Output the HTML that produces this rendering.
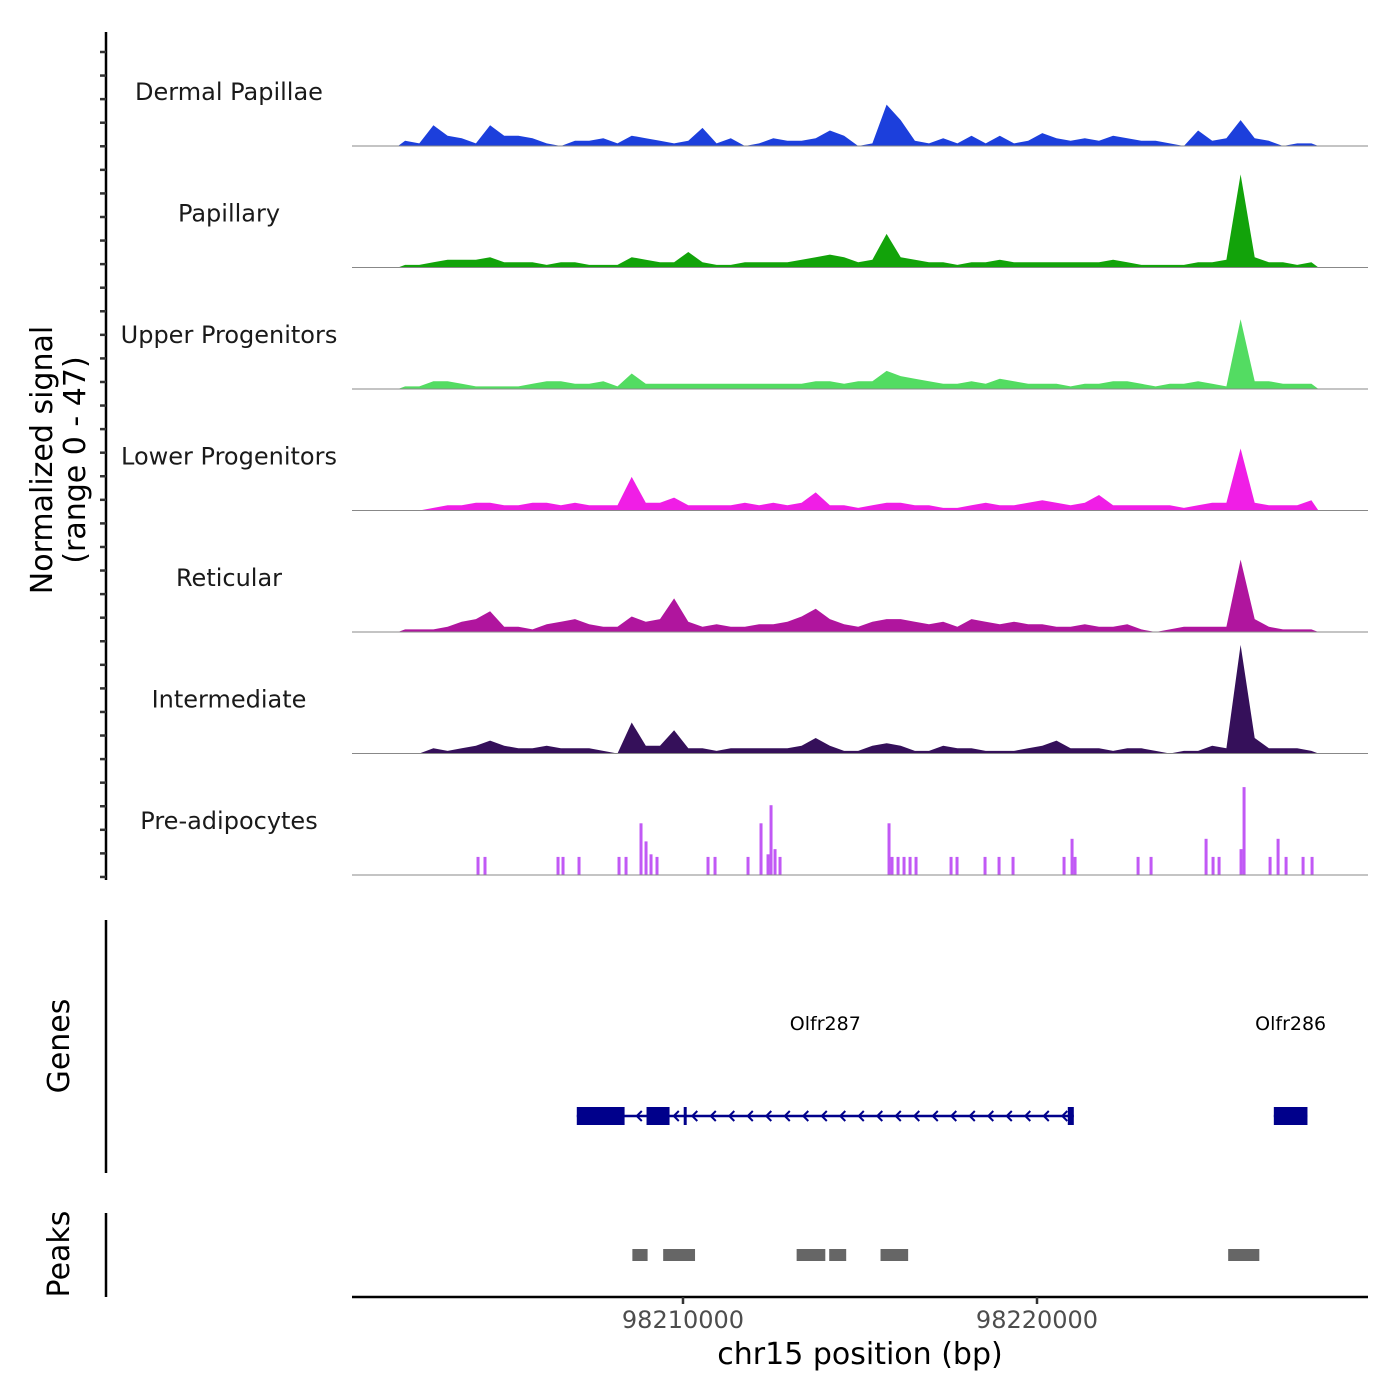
<!DOCTYPE html>
<html><head><meta charset="utf-8"><style>
body{margin:0;background:#fff}
svg{display:block;font-family:"DejaVu Sans","Liberation Sans",sans-serif}
</style></head><body>
<svg id="chart" width="1400" height="1400" viewBox="0 0 1400 1400" xmlns="http://www.w3.org/2000/svg">
<rect width="1400" height="1400" fill="#fff"/>
<g id="tracks"></g>
<line x1="106" y1="32" x2="106" y2="880" stroke="#000" stroke-width="2.5"/>
<g id="yticks"></g>
<text transform="translate(52,460) rotate(-90)" text-anchor="middle" font-size="30" fill="#000"><tspan x="0" dy="0">Normalized signal</tspan><tspan x="0" dy="33">(range 0 - 47)</tspan></text>
<line x1="106" y1="920" x2="106" y2="1173" stroke="#000" stroke-width="2.5"/>
<text transform="translate(69,1046) rotate(-90)" text-anchor="middle" font-size="30">Genes</text>
<line x1="106" y1="1213" x2="106" y2="1297" stroke="#000" stroke-width="2.5"/>
<text transform="translate(69,1254) rotate(-90)" text-anchor="middle" font-size="30">Peaks</text>
<g id="genes"></g>
<g id="peaks"></g>
<line x1="352" y1="1297" x2="1368" y2="1297" stroke="#000" stroke-width="2.5"/>
<g id="xticks"></g>
<text x="860" y="1364" text-anchor="middle" font-size="30">chr15 position (bp)</text>
</svg>
<script>
const binStart = 98201950;
const binSize = 400;
const trackNames = ["Dermal Papillae","Papillary","Upper Progenitors","Lower Progenitors","Reticular","Intermediate","Pre-adipocytes"];
const trackColors = ["#1c3fdc","#12a30a","#53dc62","#f01ee6","#b0159e","#35105a","#c159f5"];
const dermal = [2,1,8,4,3,1,8,4,4,3,1,0,2,2,3,1,4,3,2,1,2,7,1,3,0,1,3,2,2,3,6,4,0,1,16,10,2,1,3,1,4,1,4,1,2,5,3,2,3,2,4,3,2,2,1,0,6,2,3,10,3,2,0,1,1];
const papillary = [1,1,2,3,3,3,4,2,2,2,1,2,2,1,1,1,4,3,2,2,6,2,1,1,2,2,2,2,3,4,5,4,2,3,13,4,3,2,2,1,2,2,3,2,2,2,2,2,2,2,3,2,1,1,1,1,2,2,3,36,4,2,2,1,2];
const upper = [1,1,3,3,2,1,1,1,1,2,3,3,2,2,3,1,6,2,2,2,2,2,2,2,2,2,2,2,2,3,3,2,3,3,7,5,4,3,2,2,3,2,4,3,2,2,2,1,2,2,3,3,2,1,2,2,3,2,1,27,3,3,2,2,2];
const lower = [0,0,1,2,2,3,3,2,2,3,3,2,3,2,2,2,13,3,3,5,2,2,2,2,3,2,3,2,3,7,2,2,1,2,3,3,2,2,1,1,2,3,2,2,3,4,3,2,3,6,2,2,2,2,2,1,2,3,3,24,3,2,2,2,4];
const reticular = [1,1,1,2,4,5,8,2,2,1,3,4,5,3,2,2,6,4,5,13,4,2,3,2,2,3,3,4,6,9,5,3,2,4,5,5,4,3,4,2,5,4,3,4,3,3,2,2,3,2,2,3,1,0,1,2,2,2,2,28,5,2,1,1,1];
const intermediate = [0,0,2,1,2,3,5,3,2,2,3,2,2,2,1,0,12,3,3,9,2,2,1,2,2,2,2,2,3,6,3,1,1,3,4,3,1,1,3,2,2,1,1,1,2,3,5,2,2,2,1,2,2,1,0,1,1,3,2,42,6,2,2,2,1];
const preadipoPos = [98204210,98204407,98206470,98206611,98207063,98208193,98208391,98208814,98208956,98209097,98209266,98210707,98210905,98211837,98212204,98212402,98212487,98212600,98212741,98215820,98215905,98216075,98216244,98216414,98216583,98217572,98217741,98218532,98218928,98219323,98220764,98220990,98221075,98222855,98223222,98224776,98224973,98225143,98225764,98225849,98226584,98226810,98227036,98227516,98227770];
const preadipoVal = [7,7,7,7,7,7,7,20,13,8,7,7,7,7,20,8,27,10,7,20,7,7,7,7,7,7,7,7,7,7,7,14,7,7,7,14,7,7,10,34,7,14,7,7,7];
const geneNames = ["Olfr287","Olfr286"];
const geneStart = [98207000,98226690];
const geneEnd = [98221040,98227640];
const exonStart = [98207000,98208970,98210020,98220870,98226690];
const exonEnd = [98208350,98209620,98210060,98221040,98227640];
const peakStart = [98208570,98209440,98213210,98214130,98215580,98225400];
const peakEnd = [98209000,98210340,98214020,98214610,98216360,98226280];
const xTicks = [98210000,98220000];

const NS="http://www.w3.org/2000/svg";
const X0=352,X1=1368,BP0=98200650,BP1=98229350;
const xs = bp => X0 + (bp-BP0)/(BP1-BP0)*(X1-X0);
const trackTop=24.5, trackH=121.5, maxVal=47;
const ys = (v,base) => base - v/maxVal*trackH;
function mk(tag,attrs,parent){const e=document.createElementNS(NS,tag);for(const k in attrs)e.setAttribute(k,attrs[k]);parent.appendChild(e);return e;}
const series=[dermal,papillary,upper,lower,reticular,intermediate];
const tg=document.getElementById('tracks');
for(let t=0;t<7;t++){
  const base=trackTop+trackH*(t+1);
  const g=mk('g',{},tg);
  
  
  if(t<6){
    const d=series[t];
    let p='M'+xs(binStart)+','+base;
    for(let i=0;i<d.length;i++){p+=' L'+xs(binStart+binSize*(i+0.5)).toFixed(1)+','+ys(d[i],base).toFixed(1);}
    p+=' L'+xs(binStart+binSize*d.length)+','+base+' Z';
    const a=mk('path',{d:p,fill:trackColors[t]},g);
    
    
  } else {
    for(let i=0;i<preadipoPos.length;i++){
      const y=ys(preadipoVal[i],base);
      const r=mk('rect',{x:xs(preadipoPos[i])-1.5,y:y,width:3,height:base-y,fill:trackColors[t]},g);
      
      
    }
  }
  const bl=mk('line',{x1:X0,x2:X1,y1:base,y2:base,stroke:'#888','stroke-width':1},g);
  
  
  const lb=mk('text',{x:229,y:base-46,'text-anchor':'middle','font-size':24,fill:'#1a1a1a'},g);
  lb.textContent=trackNames[t];
  
  
}
const yt=document.getElementById('yticks');
for(let i=0;i<36;i++){const y=52+i*23.57;const l=mk('line',{x1:100,x2:106,y1:y,y2:y,stroke:'#333','stroke-width':2.5},yt);

}
const gg=document.getElementById('genes');const GC='#00008B';
for(let i=0;i<geneNames.length;i++){
  const x1=xs(geneStart[i]),x2=xs(geneEnd[i]);
  const l=mk('line',{x1:x1,x2:x2,y1:1116,y2:1116,stroke:GC,'stroke-width':2.5},gg);
  
  
  if(i===0){for(let x=x1+60;x<x2-8;x+=18.5){const a=mk('path',{d:`M${x+5},1111 L${x},1116 L${x+5},1121`,stroke:GC,fill:'none','stroke-width':2},gg);
    
    }}
  const tx=mk('text',{x:(x1+x2)/2,y:1030,'text-anchor':'middle','font-size':19,fill:'#000'},gg);
  tx.textContent=geneNames[i];
  
  
}
for(let i=0;i<exonStart.length;i++){const r=mk('rect',{x:xs(exonStart[i]),y:1107,width:Math.max(3,xs(exonEnd[i])-xs(exonStart[i])),height:18,fill:GC},gg);
  
  }
const pg=document.getElementById('peaks');
for(let i=0;i<peakStart.length;i++){const r=mk('rect',{x:xs(peakStart[i]),y:1249,width:xs(peakEnd[i])-xs(peakStart[i]),height:12,fill:'#666'},pg);
  
  }
const xt=document.getElementById('xticks');
for(const v of xTicks){const x=xs(v);
  const l=mk('line',{x1:x,x2:x,y1:1297,y2:1304,stroke:'#333','stroke-width':2.5},xt);
  
  
  const t=mk('text',{x:x,y:1328,'text-anchor':'middle','font-size':24,fill:'#4d4d4d'},xt);t.textContent=v;
  
  }
</script>
</body></html>
